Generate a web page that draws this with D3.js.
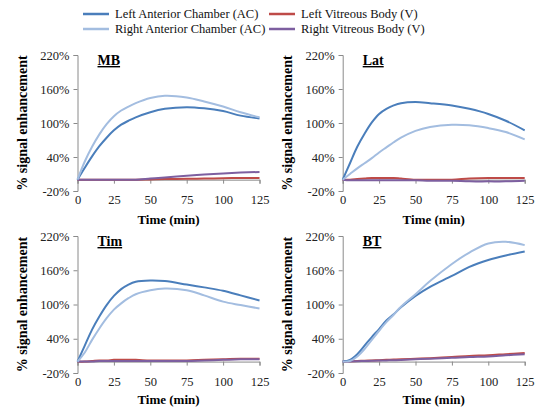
<!DOCTYPE html>
<html>
<head>
<meta charset="utf-8">
<script src="https://cdn.jsdelivr.net/npm/d3@7"></script>
<style>
  body { margin: 0; background: #fff; }
  svg text { font-family: "Liberation Serif", "Times New Roman", Times, "DejaVu Serif", serif !important; }
</style>
</head>
<body>
<svg width="541" height="407"></svg>
<script>
// time points (min)
var times = [0, 5, 10, 15, 20, 25, 30, 35, 40, 50, 60, 75, 87, 100, 112, 125];

// % signal enhancement
var mbLeftAC  = [0, 21, 41, 59, 74, 87, 97, 104, 110, 119, 125, 128, 126, 121, 113, 108];
var mbRightAC = [0, 32, 58, 80, 98, 112, 122, 129, 135, 144, 148, 145, 138, 129, 119, 110];
var mbLeftV   = [0, 0, 0, 0, 0, 0, 0, 0, 0, 0.5, 1, 1.5, 2, 2.5, 3, 3];
var mbRightV  = [0, 0, 0, 0, 0, 0, 0, 0, 0, 2, 4, 7, 9, 11, 12.5, 13.5];

var latLeftAC  = [0, 29, 58, 81, 101, 116, 125, 131, 135, 137, 135, 131, 125, 116, 104, 87];
var latRightAC = [0, 10, 20, 29, 38, 48, 57, 66, 74, 86, 93, 97, 96, 91, 84, 71];
var latLeftV   = [0, 0, 1, 2, 3, 3, 3, 3, 2, 0, 0, 0, 2, 3, 3, 3];
var latRightV  = [0, -1, -1, -1, -1, -1, -1, -1, -1, -1, -2, -2, -3, -3, -3, -2];

var timLeftAC  = [0, 28, 56, 79, 99, 115, 127, 135, 140, 142, 141, 135, 130, 124, 116, 107];
var timRightAC = [0, 16, 38, 58, 76, 91, 102, 111, 118, 125, 128, 125, 116, 105, 99, 93];
var timLeftV   = [0, 0, 1, 2, 2, 3, 3, 3, 3, 2, 2, 2, 3, 4, 5, 5];
var timRightV  = [0, 0, 0, 1, 1, 1, 1, 1, 1, 1, 1, 1, 2, 3, 4, 4];

var btLeftAC  = [0, 3, 13, 28, 43, 57, 72, 83, 95, 115, 131, 150, 166, 178, 186, 193];
var btRightAC = [0, 1, 9, 22, 38, 54, 69, 82, 96, 118, 141, 171, 191, 207, 210, 204];
var btLeftV   = [0, 0.5, 1, 1.5, 2, 2.5, 3, 3.5, 4, 5, 6, 8, 10, 11, 13, 15];
var btRightV  = [0, 0.3, 0.6, 1, 1.3, 1.7, 2, 2.4, 2.8, 4, 5, 6.5, 8, 9, 11, 13];

var seriesNames = ["Left Anterior Chamber (AC)", "Right Anterior Chamber (AC)",
                   "Left Vitreous Body (V)", "Right Vitreous Body (V)"];
var seriesColors = ["#4a7ebb", "#a3bde0", "#be4b48", "#7d5fa0"];

var xTicks = [0, 25, 50, 75, 100, 125];
var yTicks = [-20, 40, 100, 160, 220];

var panels = [
  { title: "MB",  x0: 77.5,  y0: 191, y1: 55,  data: [mbLeftAC, mbRightAC, mbLeftV, mbRightV] },
  { title: "Lat", x0: 342.7, y0: 191, y1: 55,  data: [latLeftAC, latRightAC, latLeftV, latRightV] },
  { title: "Tim", x0: 77.5,  y0: 373, y1: 236, data: [timLeftAC, timRightAC, timLeftV, timRightV] },
  { title: "BT",  x0: 342.7, y0: 373, y1: 236, data: [btLeftAC, btRightAC, btLeftV, btRightV] }
];

var svg = d3.select("svg");

// legend
var legend = svg.append("g");
seriesNames.forEach(function(name, i) {
  var lx = i < 2 ? 83 : 269;
  var ly = i % 2 === 0 ? 14 : 29;
  legend.append("line")
    .attr("x1", lx).attr("x2", lx + 26)
    .attr("y1", ly).attr("y2", ly)
    .attr("stroke", seriesColors[i]).attr("stroke-width", 2.5);
  legend.append("text")
    .attr("x", lx + 32).attr("y", ly + 4)
    .attr("font-size", 12.5).attr("fill", "#111")
    .text(name);
});

panels.forEach(function(p) {
  var x = d3.scaleLinear().domain([0, 125]).range([p.x0, p.x0 + 182]);
  var y = d3.scaleLinear().domain([-20, 220]).range([p.y0, p.y1]);
  var g = svg.append("g");

  // y axis
  var yAxis = g.append("g")
    .attr("transform", "translate(" + p.x0 + ",0)")
    .call(d3.axisLeft(y).tickValues(yTicks).tickSize(4).tickPadding(4)
      .tickFormat(function(d) { return d + "%"; }));
  yAxis.selectAll("text").attr("font-size", 12.5).attr("fill", "#222");

  // x axis crosses at 0, labels at the bottom
  var xAxis = g.append("g")
    .attr("transform", "translate(0," + y(0) + ")")
    .call(d3.axisBottom(x).tickValues(xTicks).tickSize(4).tickPadding(y(-20) - y(0) + 0.5));
  xAxis.selectAll("text").attr("font-size", 12.5).attr("fill", "#222");

  [yAxis, xAxis].forEach(function(a) {
    a.select(".domain").attr("stroke", "#8a8a8a");
    a.selectAll(".tick line").attr("stroke", "#8a8a8a");
  });

  // axis titles
  var top = p.y0 < 300;
  g.append("text")
    .attr("x", p.x0 + 91).attr("y", y(-20) + (top ? 33 : 31))
    .attr("text-anchor", "middle")
    .attr("font-size", 13).attr("font-weight", "bold")
    .text("Time (min)");

  var ymid = (p.y0 + p.y1) / 2;
  g.append("text")
    .attr("transform", "translate(" + (p.x0 - 51) + "," + ymid + ") rotate(-90)")
    .attr("text-anchor", "middle")
    .attr("font-size", 14).attr("font-weight", "bold")
    .text("% signal enhancement");

  // panel title
  g.append("text")
    .attr("x", p.x0 + 20).attr("y", p.y1 + 10)
    .attr("font-size", 14).attr("font-weight", "bold")
    .attr("text-decoration", "underline")
    .text(p.title);

  // lines: vitreous first, AC on top
  var line = d3.line()
    .x(function(d, i) { return x(times[i]); })
    .y(function(d) { return y(d); })
    .curve(d3.curveCatmullRom.alpha(0.5));

  [2, 3, 0, 1].forEach(function(k) {
    g.append("path")
      .datum(p.data[k])
      .attr("d", line)
      .attr("fill", "none")
      .attr("stroke", seriesColors[k])
      .attr("stroke-width", 2);
  });
});
</script>
</body>
</html>
